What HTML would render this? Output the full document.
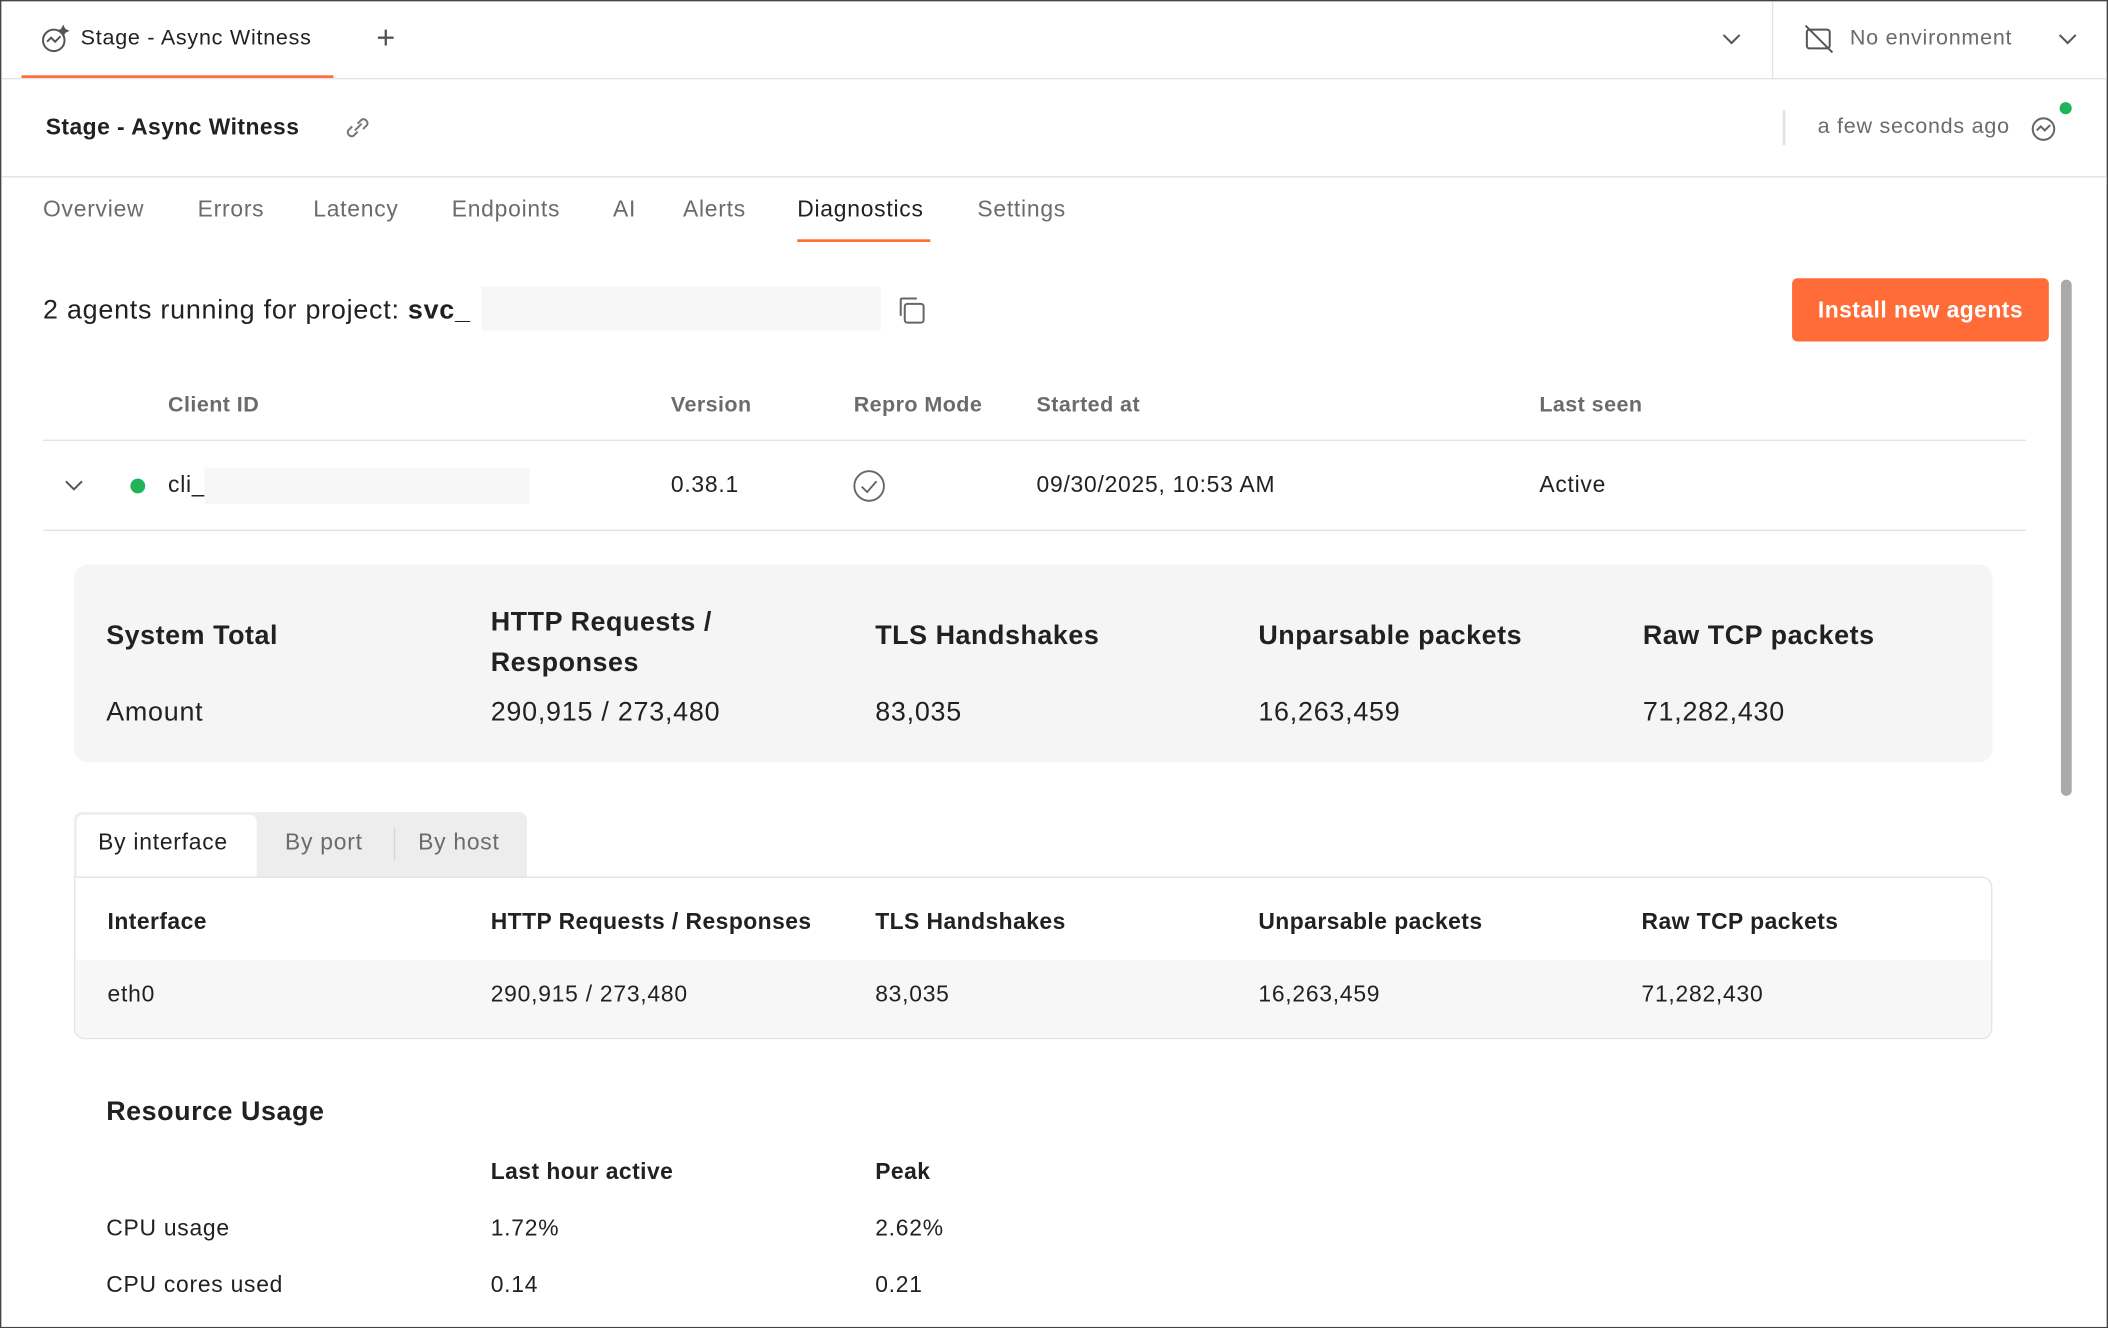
<!DOCTYPE html>
<html><head><meta charset="utf-8"><style>
html,body{margin:0;padding:0;background:#fff;overflow:hidden}
#w{width:1568px;height:988px;transform:scale(1.34439);transform-origin:0 0;position:relative;font-family:"Liberation Sans",sans-serif;color:#212121;letter-spacing:0.035em}
.a{position:absolute;white-space:nowrap;line-height:1}
.b{font-weight:bold;letter-spacing:0.02em}
.g{color:#6b6b6b}
</style></head><body><div id="w">
<div class="a" style="left:0;top:0;width:1566px;height:986px;border:1px solid #444;"></div>
<div class="a" style="left:1px;top:58px;width:1566px;height:1px;background:#e3e3e3"></div>
<div class="a" style="left:16px;top:56px;width:232px;height:2px;background:#ff6c37"></div>
<svg class="a" style="left:30px;top:18px" width="22" height="22" viewBox="0 0 22 22" fill="none" stroke="#555" stroke-width="1.5"><circle cx="10" cy="12" r="8"/><path d="M5 13l3-3 3 3 4-4"/><path d="M17 2l1 2 2 1-2 1-1 2-1-2-2-1 2-1z" fill="#555"/></svg>
<div class="a" style="left:60px;top:21px;font-size:16px">Stage - Async Witness</div>
<div class="a" style="left:280px;top:17px;font-size:24px;color:#555;font-weight:300">+</div>
<svg class="a" style="left:1281px;top:24px" width="14" height="10"><path d="M1 2l6 6 6-6" stroke="#555" stroke-width="1.5" fill="none"/></svg>
<div class="a" style="left:1318px;top:1px;width:1px;height:57px;background:#e3e3e3"></div>
<svg class="a" style="left:1342px;top:18px" width="22" height="22" fill="none" stroke="#555" stroke-width="1.5"><rect x="2" y="4" width="17" height="14" rx="2"/><path d="M1 1l20 20"/></svg>
<div class="a g" style="left:1376px;top:21px;font-size:16px">No environment</div>
<svg class="a" style="left:1531px;top:24px" width="14" height="10"><path d="M1 2l6 6 6-6" stroke="#555" stroke-width="1.5" fill="none"/></svg>
<div class="a b" style="left:34px;top:86px;font-size:17px">Stage - Async Witness</div>
<svg class="a" style="left:255px;top:84px" width="22" height="22" fill="none" stroke="#777" stroke-width="1.5"><path d="M9 13l5-5"/><path d="M7 10l-3 3a3 3 0 004 4l3-3M15 12l3-3a3 3 0 00-4-4l-3 3"/></svg>
<div class="a" style="left:1326px;top:82px;width:2px;height:26px;background:#e3e3e3"></div>
<div class="a g" style="left:1352px;top:87px;font-size:16px">a few seconds ago</div>
<svg class="a" style="left:1509px;top:83px" width="24" height="24" fill="none" stroke="#666" stroke-width="1.5"><circle cx="11" cy="13" r="8"/><path d="M6 14l3-3 3 3 4-4"/></svg>
<div class="a" style="left:1532px;top:76px;width:9px;height:9px;border-radius:50%;background:#1fb35a"></div>
<div class="a" style="left:1px;top:131px;width:1566px;height:1px;background:#e3e3e3"></div>
<div class="a g" style="left:32px;top:147px;font-size:17px">Overview</div>
<div class="a g" style="left:147px;top:147px;font-size:17px">Errors</div>
<div class="a g" style="left:233px;top:147px;font-size:17px">Latency</div>
<div class="a g" style="left:336px;top:147px;font-size:17px">Endpoints</div>
<div class="a g" style="left:456px;top:147px;font-size:17px">AI</div>
<div class="a g" style="left:508px;top:147px;font-size:17px">Alerts</div>
<div class="a" style="left:593px;top:147px;font-size:17px">Diagnostics</div>
<div class="a" style="left:593px;top:178px;width:99px;height:2px;background:#ff6c37"></div>
<div class="a g" style="left:727px;top:147px;font-size:17px">Settings</div>
<div class="a" style="left:32px;top:221px;font-size:20px">2 agents running for project: <b>svc_</b></div>
<div class="a" style="left:358px;top:213px;width:297px;height:33px;background:#f7f7f7"></div>
<svg class="a" style="left:666px;top:219px" width="24" height="24" fill="none" stroke="#666" stroke-width="1.5"><rect x="7" y="7" width="14" height="14" rx="2"/><path d="M4 16V4a1 1 0 011-1h11"/></svg>
<div class="a b" style="left:1333px;top:207px;width:191px;height:47px;background:#ff6c37;border-radius:4px;color:#fff;font-size:17px;text-align:center;line-height:47px">Install new agents</div>
<div class="a" style="left:1533px;top:208px;width:8px;height:384px;background:#aaa;border-radius:4px"></div>
<div class="a b g" style="left:125px;top:294px;font-size:16px">Client ID</div>
<div class="a b g" style="left:499px;top:294px;font-size:16px">Version</div>
<div class="a b g" style="left:635px;top:294px;font-size:16px">Repro Mode</div>
<div class="a b g" style="left:771px;top:294px;font-size:16px">Started at</div>
<div class="a b g" style="left:1145px;top:294px;font-size:16px">Last seen</div>
<div class="a" style="left:32px;top:327px;width:1475px;height:1px;background:#e3e3e3"></div>
<svg class="a" style="left:48px;top:356px" width="14" height="10"><path d="M1 2l6 6 6-6" stroke="#555" stroke-width="1.5" fill="none"/></svg>
<div class="a" style="left:97px;top:356px;width:11px;height:11px;border-radius:50%;background:#1fb35a"></div>
<div class="a" style="left:125px;top:352px;font-size:17px">cli_</div>
<div class="a" style="left:152px;top:348px;width:242px;height:27px;background:#f7f7f7"></div>
<div class="a" style="left:499px;top:352px;font-size:17px">0.38.1</div>
<svg class="a" style="left:634px;top:349px" width="25" height="25" fill="none" stroke="#666" stroke-width="1.4"><circle cx="12.5" cy="12.5" r="11"/><path d="M7 13l4 4 7-8"/></svg>
<div class="a" style="left:771px;top:352px;font-size:17px">09/30/2025, 10:53 AM</div>
<div class="a" style="left:1145px;top:352px;font-size:17px">Active</div>
<div class="a" style="left:32px;top:394px;width:1475px;height:1px;background:#e3e3e3"></div>
<div class="a" style="left:55px;top:420px;width:1427px;height:147px;background:#f5f5f5;border-radius:10px"></div>
<div class="a b" style="left:79px;top:463px;font-size:20px">System Total</div>
<div class="a b" style="left:365px;top:448px;font-size:20px;line-height:30px">HTTP Requests /<br>Responses</div>
<div class="a b" style="left:651px;top:463px;font-size:20px">TLS Handshakes</div>
<div class="a b" style="left:936px;top:463px;font-size:20px">Unparsable packets</div>
<div class="a b" style="left:1222px;top:463px;font-size:20px">Raw TCP packets</div>
<div class="a" style="left:79px;top:520px;font-size:20px">Amount</div>
<div class="a" style="left:365px;top:520px;font-size:20px">290,915 / 273,480</div>
<div class="a" style="left:651px;top:520px;font-size:20px">83,035</div>
<div class="a" style="left:936px;top:520px;font-size:20px">16,263,459</div>
<div class="a" style="left:1222px;top:520px;font-size:20px">71,282,430</div>
<div class="a" style="left:55px;top:604px;width:337px;height:48px;background:#ededed;border-radius:6px 6px 0 0"></div>
<div class="a" style="left:57px;top:606px;width:134px;height:46px;background:#fff;border-radius:5px 5px 0 0"></div>
<div class="a" style="left:73px;top:618px;font-size:17px">By interface</div>
<div class="a g" style="left:212px;top:618px;font-size:17px">By port</div>
<div class="a" style="left:293px;top:616px;width:1px;height:24px;background:#d5d5d5"></div>
<div class="a g" style="left:311px;top:618px;font-size:17px">By host</div>
<div class="a" style="left:55px;top:652px;width:1425px;height:119px;border:1px solid #e3e3e3;border-radius:0 8px 8px 8px;overflow:hidden"><div style="position:absolute;left:0;top:61px;width:100%;height:58px;background:#f7f7f7"></div></div>
<div class="a b" style="left:80px;top:677px;font-size:17px">Interface</div>
<div class="a b" style="left:365px;top:677px;font-size:17px">HTTP Requests / Responses</div>
<div class="a b" style="left:651px;top:677px;font-size:17px">TLS Handshakes</div>
<div class="a b" style="left:936px;top:677px;font-size:17px">Unparsable packets</div>
<div class="a b" style="left:1221px;top:677px;font-size:17px">Raw TCP packets</div>
<div class="a" style="left:80px;top:731px;font-size:17px">eth0</div>
<div class="a" style="left:365px;top:731px;font-size:17px">290,915 / 273,480</div>
<div class="a" style="left:651px;top:731px;font-size:17px">83,035</div>
<div class="a" style="left:936px;top:731px;font-size:17px">16,263,459</div>
<div class="a" style="left:1221px;top:731px;font-size:17px">71,282,430</div>
<div class="a b" style="left:79px;top:817px;font-size:20px">Resource Usage</div>
<div class="a b" style="left:365px;top:863px;font-size:17px">Last hour active</div>
<div class="a b" style="left:651px;top:863px;font-size:17px">Peak</div>
<div class="a" style="left:79px;top:905px;font-size:17px">CPU usage</div>
<div class="a" style="left:365px;top:905px;font-size:17px">1.72%</div>
<div class="a" style="left:651px;top:905px;font-size:17px">2.62%</div>
<div class="a" style="left:79px;top:947px;font-size:17px">CPU cores used</div>
<div class="a" style="left:365px;top:947px;font-size:17px">0.14</div>
<div class="a" style="left:651px;top:947px;font-size:17px">0.21</div>
</div></body></html>
